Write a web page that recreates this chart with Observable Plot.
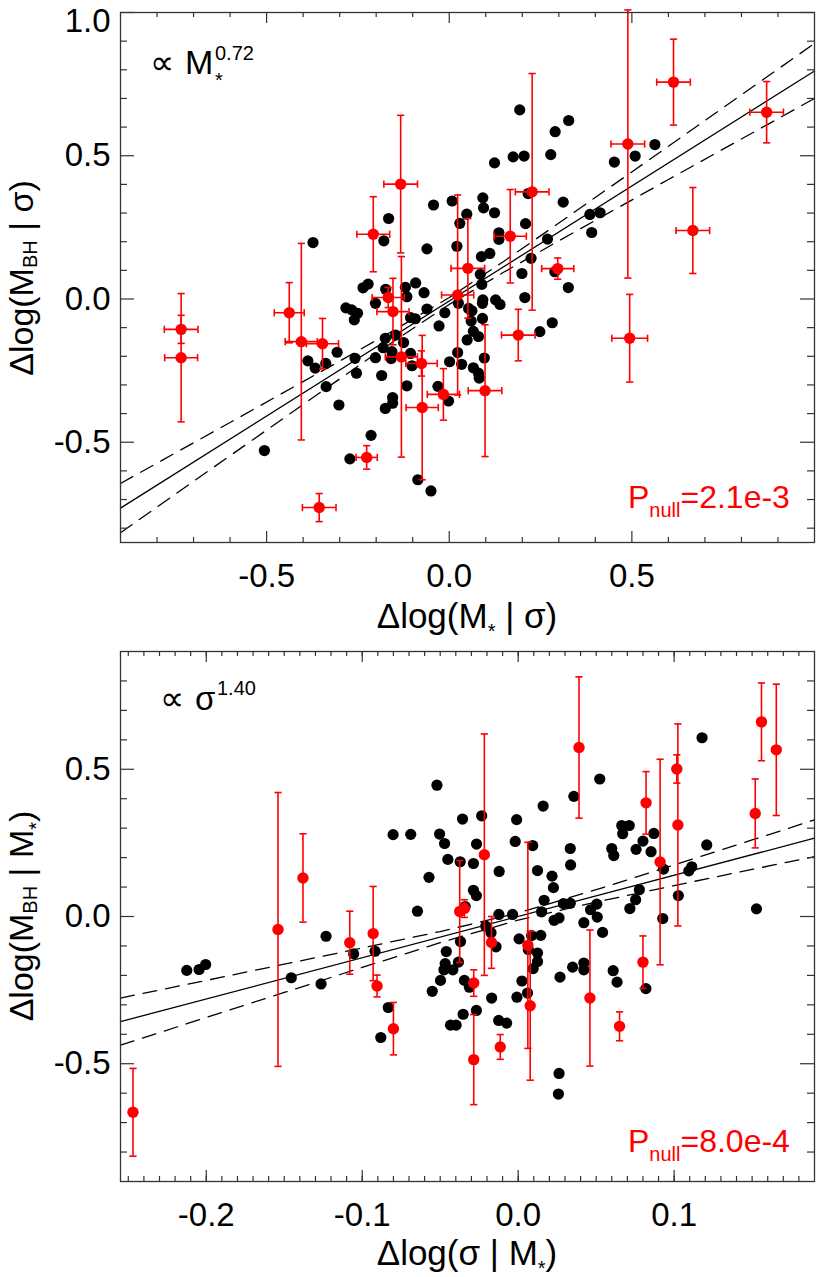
<!DOCTYPE html>
<html>
<head>
<meta charset="utf-8">
<script src="https://cdn.jsdelivr.net/npm/d3@7"></script>
<script src="https://cdn.jsdelivr.net/npm/@observablehq/plot@0.6"></script>
<style>
  body { margin: 0; background: #fff; }
  #chart { width: 830px; }
  #chart svg { display: block; }
</style>
</head>
<body>
<div id="chart"></div>
<script>
// ---------------- Top panel data: Δlog(M_BH|σ) vs Δlog(M*|σ) ----------------
const topBlackX = [0.193,0.327,0.290,0.278,0.205,0.175,0.124,0.452,0.509,0.563,
-0.043,0.008,0.092,0.094,0.124,0.048,0.029,0.021,-0.061,0.136,
0.136,0.209,0.312,0.385,0.413,0.390,0.269,0.224,0.199,0.326,
0.111,0.088,0.085,0.089,0.289,-0.373,-0.166,-0.179,-0.236,-0.222,
-0.174,-0.120,-0.092,-0.069,-0.116,0.207,0.127,0.092,0.216,-0.283,
-0.267,-0.251,-0.260,-0.202,-0.061,-0.106,-0.093,-0.028,-0.012,0.025,
0.062,0.053,0.091,0.139,0.091,0.060,0.066,0.080,0.049,0.248,
0.282,0.023,0.001,0.034,0.096,0.066,0.080,0.082,-0.031,-0.002,
-0.116,-0.155,-0.155,-0.175,-0.185,-0.202,-0.159,-0.157,-0.181,-0.125,
-0.106,-0.102,-0.175,-0.147,-0.258,-0.254,-0.307,-0.387,-0.367,-0.338,
-0.337,-0.302,-0.214,-0.272,-0.506,-0.086,-0.050];
const topBlackY = [0.660,0.623,0.584,0.504,0.499,0.496,0.475,0.478,0.499,0.539,
0.328,0.342,0.353,0.318,0.301,0.296,0.264,0.184,0.175,0.231,
0.208,0.263,0.338,0.295,0.301,0.232,0.209,0.142,0.089,0.040,
0.159,0.148,0.086,0.051,0.095,0.197,0.281,0.203,0.039,0.052,
0.034,0.041,0.056,0.022,0.008,0.005,-0.003,-0.003,0.368,-0.031,
-0.038,-0.050,-0.073,-0.015,-0.035,-0.065,-0.069,-0.094,-0.048,-0.015,
-0.041,-0.033,-0.015,-0.019,-0.068,-0.077,-0.113,-0.131,-0.143,-0.114,
-0.083,-0.187,-0.219,-0.228,-0.206,-0.240,-0.259,-0.276,-0.305,-0.356,
-0.303,-0.344,-0.364,-0.382,-0.267,-0.205,-0.208,-0.184,-0.170,-0.152,
-0.190,-0.233,-0.137,-0.126,-0.207,-0.259,-0.186,-0.216,-0.241,-0.225,
-0.306,-0.370,-0.476,-0.558,-0.529,-0.631,-0.670];

const topRedX = [-0.734,-0.734,-0.438,-0.405,-0.347,-0.356,-0.226,-0.208,-0.133,-0.167,-0.154,-0.131,-0.076,-0.074,-0.016,0.023,0.051,0.098,0.167,0.189,0.227,0.297,0.489,0.494,0.614,0.667,0.869];
const topRedY = [-0.106,-0.205,-0.048,-0.149,-0.156,-0.728,-0.553,0.226,0.401,0.005,-0.044,-0.202,-0.225,-0.379,-0.333,0.014,0.107,-0.320,0.219,-0.126,0.374,0.106,0.541,-0.137,0.757,0.239,0.652];
const topRedXErr = [0.046,0.045,0.041,0.044,0.044,0.046,0.029,0.045,0.046,0.044,0.044,0.044,0.043,0.044,0.044,0.044,0.046,0.046,0.044,0.046,0.046,0.044,0.046,0.049,0.046,0.046,0.046];
const topRedYErr = [0.049,0.224,0.105,0.343,0.088,0.049,0.041,0.131,0.240,0.035,0.116,0.350,0.044,0.252,0.090,0.349,0.174,0.230,0.163,0.090,0.413,0.037,0.468,0.153,0.150,0.150,0.107];

const topFitX = [-0.9, 1.0];
const topFitY = [-0.730, 0.796];
const topBandX     = [-0.9, -0.6, -0.3, -0.15, 0, 0.15, 0.3, 0.6, 1.0];
const topBandUpper = [-0.644, -0.431, -0.217, -0.108, 0.005, 0.132, 0.265, 0.533, 0.892];
const topBandLower = [-0.816, -0.547, -0.279, -0.146, -0.019, 0.094, 0.203, 0.417, 0.700];

const topXDomain = [-0.9, 1.0];
const topYDomain = [-0.85, 1.0];
const topXMajor = [-0.5, 0.0, 0.5];
const topYMajor = [-0.5, 0.0, 0.5, 1.0];
const topXMinor = [-0.8,-0.7,-0.6,-0.4,-0.3,-0.2,-0.1,0.1,0.2,0.3,0.4,0.6,0.7,0.8,0.9];
const topYMinor = [-0.8,-0.7,-0.6,-0.4,-0.3,-0.2,-0.1,0.1,0.2,0.3,0.4,0.6,0.7,0.8,0.9];

// ---------------- Bottom panel data: Δlog(M_BH|M*) vs Δlog(σ|M*) ----------------
const botBlackX = [-0.2125,-0.2046,-0.2004,-0.1455,-0.1264,-0.1232,-0.1055,-0.0918,-0.0833,-0.0881,
-0.0802,-0.0689,-0.0646,-0.0521,-0.0504,-0.0472,-0.0451,-0.0372,-0.0287,-0.0357,
-0.0234,-0.0267,-0.0572,-0.0287,-0.0268,-0.0340,-0.0122,-0.0124,-0.0036,-0.0208,
-0.0174,-0.0142,-0.0010,-0.0019,0.0093,0.0160,0.0124,0.0217,0.0226,0.0166,
0.0150,0.0290,0.0334,0.0230,0.0262,0.0357,0.0523,0.0334,0.0336,0.0600,
0.0613,0.0664,0.0712,0.0670,0.0756,0.0800,0.0870,0.0852,0.0932,0.1113,
0.1094,0.1209,0.1179,0.0777,0.0753,0.0716,0.1027,0.0927,0.0504,0.0464,
0.0507,0.0421,0.0541,-0.0370,-0.0461,-0.0468,-0.0476,-0.0419,-0.0383,-0.0498,
-0.0551,-0.0345,-0.0313,-0.0353,-0.0434,-0.0398,-0.0268,-0.0170,-0.0125,-0.0074,
0.0006,0.0086,0.0145,0.0065,0.0124,0.0124,0.0096,0.0024,-0.0008,0.0060,
0.0268,0.0349,0.0421,0.0421,0.0609,0.0634,0.0819,0.0262,0.0258,0.1528];
const botBlackY = [-0.183,-0.180,-0.163,-0.208,-0.229,-0.067,-0.127,-0.118,-0.309,-0.411,
0.278,0.279,0.018,0.446,0.280,0.248,0.194,0.186,0.180,0.331,
0.342,0.246,0.133,0.089,0.071,0.034,0.153,0.007,0.007,-0.033,
-0.055,-0.103,0.329,0.255,0.241,0.375,0.156,0.137,0.098,0.055,
0.016,0.044,0.045,-0.013,-0.005,0.408,0.467,0.231,0.175,0.231,
0.207,0.309,0.309,0.281,0.228,0.256,0.282,0.220,0.161,0.169,
0.155,0.243,0.607,0.091,0.057,0.027,0.071,-0.007,0.042,0.023,
-0.002,-0.021,-0.054,-0.085,-0.119,-0.160,-0.181,-0.181,-0.155,-0.217,
-0.254,-0.217,-0.240,-0.332,-0.369,-0.369,-0.319,-0.277,-0.353,-0.362,
-0.076,-0.065,-0.064,-0.112,-0.124,-0.153,-0.177,-0.219,-0.274,-0.260,
-0.206,-0.172,-0.158,-0.181,-0.184,-0.223,-0.245,-0.533,-0.603,0.026];

const botRedX = [-0.247,-0.154,-0.138,-0.108,-0.093,-0.0905,-0.080,-0.0375,-0.0345,-0.0285,-0.0285,-0.0217,-0.0171,-0.0115,0.0062,0.0077,0.039,0.046,0.065,0.080,0.082,0.091,0.1017,0.1024,0.152,0.156,0.1655];
const botRedY = [-0.665,-0.044,0.131,-0.089,-0.058,-0.236,-0.381,0.017,0.027,-0.226,-0.486,0.210,-0.088,-0.443,-0.098,-0.303,0.574,-0.277,-0.373,-0.155,0.386,0.185,0.501,0.311,0.350,0.661,0.566];
const botRedYErr = [0.149,0.465,0.150,0.107,0.160,0.037,0.089,0.173,0.030,0.045,0.153,0.410,0.088,0.042,0.350,0.253,0.240,0.231,0.049,0.089,0.106,0.349,0.048,0.343,0.117,0.132,0.223];

const botFitX = [-0.255, 0.19];
const botFitY = [-0.357, 0.266];
const botBandX     = [-0.255, -0.2, -0.15, -0.1, -0.05, 0, 0.05, 0.1, 0.15, 0.19];
const botBandUpper = [-0.277, -0.217, -0.162, -0.107, -0.051, 0.012, 0.091, 0.175, 0.260, 0.328];
const botBandLower = [-0.437, -0.343, -0.258, -0.173, -0.089, -0.012, 0.049, 0.105, 0.160, 0.203];

const botXDomain = [-0.255, 0.19];
const botYDomain = [-0.9, 0.9];
const botXMajor = [-0.2, -0.1, 0.0, 0.1];
const botYMajor = [-0.5, 0.0, 0.5];
const botXMinor = d3.range(-25, 19).map(i => i / 100);
const botYMinor = [-0.8,-0.7,-0.6,-0.4,-0.3,-0.2,-0.1,0.1,0.2,0.3,0.4,0.6,0.7,0.8];

// ---------------- drawing ----------------
const RED = "#ff0000";
const FONT = "'Liberation Sans', Arial, Helvetica, sans-serif";
const hcap = {draw(ctx, size) { const r = Math.sqrt(size / Math.PI); ctx.moveTo(-r, 0); ctx.lineTo(r, 0); }};
const vcap = {draw(ctx, size) { const r = Math.sqrt(size / Math.PI); ctx.moveTo(0, -r); ctx.lineTo(0, r); }};

function makePanel(o) {
  const W = 830, ML = 120, MR = 16, FH = 530;
  const FW = W - ML - MR;
  const MB = o.height - o.marginTop - FH;
  const black = o.blackX.map((x, i) => ({x, y: o.blackY[i]}));
  const red = o.redX.map((x, i) => ({x, y: o.redY[i], ey: o.redYErr[i], ex: o.redXErr ? o.redXErr[i] : 0}));
  const fit = o.fitX.map((x, i) => ({x, y: o.fitY[i]}));
  const band = o.bandX.map((x, i) => ({x, upper: o.bandUpper[i], lower: o.bandLower[i]}));
  const fmt = d => d.toFixed(1);
  const ax = "#333";
  const yTop = o.yDomain[1];
  const marks = [
    Plot.line(band, {x: "x", y: "upper", stroke: "#000", strokeWidth: 1.3, strokeDasharray: "14,9"}),
    Plot.line(band, {x: "x", y: "lower", stroke: "#000", strokeWidth: 1.3, strokeDasharray: "14,9"}),
    Plot.line(fit, {x: "x", y: "y", stroke: "#000", strokeWidth: 1.3}),
    Plot.dot(black, {x: "x", y: "y", r: 5.6, fill: "#000"}),
    Plot.ruleX(red, {x: "x", y1: d => d.y - d.ey, y2: d => d.y + d.ey, stroke: RED, strokeWidth: 1.6}),
    Plot.dot(red, {x: "x", y: d => d.y - d.ey, symbol: hcap, r: 3.6, stroke: RED, strokeWidth: 1.6, fill: "none"}),
    Plot.dot(red, {x: "x", y: d => d.y + d.ey, symbol: hcap, r: 3.6, stroke: RED, strokeWidth: 1.6, fill: "none"})
  ];
  if (o.redXErr) {
    marks.push(
      Plot.ruleY(red, {y: "y", x1: d => d.x - d.ex, x2: d => d.x + d.ex, stroke: RED, strokeWidth: 1.6}),
      Plot.dot(red, {x: d => d.x - d.ex, y: "y", symbol: vcap, r: 3.6, stroke: RED, strokeWidth: 1.6, fill: "none"}),
      Plot.dot(red, {x: d => d.x + d.ex, y: "y", symbol: vcap, r: 3.6, stroke: RED, strokeWidth: 1.6, fill: "none"})
    );
  }
  marks.push(
    Plot.dot(red, {x: "x", y: "y", r: 5.7, fill: RED}),
    Plot.frame({stroke: ax, strokeWidth: 1.3}),
    Plot.tickX(o.xMajor, {insetTop: FH - 11, stroke: ax, strokeWidth: 1.2}),
    Plot.tickX(o.xMajor, {insetBottom: FH - 11, stroke: ax, strokeWidth: 1.2}),
    Plot.tickX(o.xMinor, {insetTop: FH - 5, stroke: ax, strokeWidth: 1.2}),
    Plot.tickX(o.xMinor, {insetBottom: FH - 5, stroke: ax, strokeWidth: 1.2}),
    Plot.tickY(o.yMajor, {insetRight: FW - 14, stroke: ax, strokeWidth: 1.2}),
    Plot.tickY(o.yMajor, {insetLeft: FW - 14, stroke: ax, strokeWidth: 1.2}),
    Plot.tickY(o.yMinor, {insetRight: FW - 7, stroke: ax, strokeWidth: 1.2}),
    Plot.tickY(o.yMinor, {insetLeft: FW - 7, stroke: ax, strokeWidth: 1.2}),
    // y tick labels (the label at the very top sits a little lower, as in the original)
    Plot.text(o.yMajor.filter(v => v !== yTop), {y: d => d, text: fmt, frameAnchor: "left", textAnchor: "end", dx: -10, fontSize: 33, fill: "#000"}),
    Plot.text(o.yMajor.filter(v => v === yTop), {y: d => d, text: fmt, frameAnchor: "left", textAnchor: "end", dx: -10, dy: 9, fontSize: 33, fill: "#000"})
  );
  return Plot.plot({
    width: W, height: o.height,
    marginLeft: ML, marginRight: MR, marginTop: o.marginTop, marginBottom: MB,
    style: {fontFamily: FONT, fontSize: "33px", color: "#000", background: "#fff", overflow: "visible"},
    x: {domain: o.xDomain, ticks: o.xMajor, tickSize: 0, tickPadding: 21, tickFormat: fmt, label: null},
    y: {domain: o.yDomain, axis: null},
    marks
  });
}

function addText(svg, x, y, parts, opts = {}) {
  const t = d3.select(svg).append("text")
    .attr("x", x).attr("y", y)
    .attr("font-family", FONT)
    .attr("fill", opts.fill || "#000")
    .attr("text-anchor", opts.anchor || "start");
  if (opts.rotate) t.attr("transform", `rotate(${opts.rotate},${x},${y})`);
  for (const p of parts) {
    t.append("tspan").attr("font-size", p.size).attr("dy", p.dy || 0).text(p.text);
  }
  return t;
}

const chartDiv = document.getElementById("chart");

// Top panel
const topSvg = makePanel({
  height: 640, marginTop: 12,
  blackX: topBlackX, blackY: topBlackY,
  redX: topRedX, redY: topRedY, redXErr: topRedXErr, redYErr: topRedYErr,
  fitX: topFitX, fitY: topFitY, bandX: topBandX, bandUpper: topBandUpper, bandLower: topBandLower,
  xDomain: topXDomain, yDomain: topYDomain,
  xMajor: topXMajor, yMajor: topYMajor, xMinor: topXMinor, yMinor: topYMinor
});
chartDiv.appendChild(topSvg);
addText(topSvg, 150, 74, [{text: "\u221D", size: 34}]);
addText(topSvg, 185, 74, [{text: "M", size: 34}]);
addText(topSvg, 215, 60, [{text: "0.72", size: 20}]);
addText(topSvg, 215, 87, [{text: "*", size: 20}]);
addText(topSvg, 628, 508, [{text: "P", size: 32}, {text: "null", size: 20, dy: 9}, {text: "=2.1e-3", size: 32, dy: -9}], {fill: RED});
addText(topSvg, 467, 628, [{text: "\u0394log(M", size: 35}, {text: "*", size: 20, dy: 10}, {text: " | \u03C3)", size: 35, dy: -10}], {anchor: "middle"});
addText(topSvg, 33, 278, [{text: "\u0394log(M", size: 34}, {text: "BH", size: 20, dy: 4}, {text: " | \u03C3)", size: 34, dy: -4}], {anchor: "middle", rotate: -90});

// Bottom panel
const botSvg = makePanel({
  height: 637, marginTop: 11,
  blackX: botBlackX, blackY: botBlackY,
  redX: botRedX, redY: botRedY, redXErr: null, redYErr: botRedYErr,
  fitX: botFitX, fitY: botFitY, bandX: botBandX, bandUpper: botBandUpper, bandLower: botBandLower,
  xDomain: botXDomain, yDomain: botYDomain,
  xMajor: botXMajor, yMajor: botYMajor, xMinor: botXMinor, yMinor: botYMinor
});
chartDiv.appendChild(botSvg);
addText(botSvg, 160, 70, [{text: "\u221D", size: 34}]);
addText(botSvg, 195, 70, [{text: "\u03C3", size: 33}]);
addText(botSvg, 217, 55, [{text: "1.40", size: 20}]);
addText(botSvg, 628, 512, [{text: "P", size: 32}, {text: "null", size: 20, dy: 9}, {text: "=8.0e-4", size: 32, dy: -9}], {fill: RED});
addText(botSvg, 467, 625, [{text: "\u0394log(\u03C3 | M", size: 35}, {text: "*", size: 20, dy: 10}, {text: ")", size: 35, dy: -10}], {anchor: "middle"});
addText(botSvg, 33, 276, [{text: "\u0394log(M", size: 34}, {text: "BH", size: 20, dy: 4}, {text: " | M", size: 34, dy: -4}, {text: "*", size: 20, dy: 10}, {text: ")", size: 34, dy: -10}], {anchor: "middle", rotate: -90});
</script>
</body>
</html>
